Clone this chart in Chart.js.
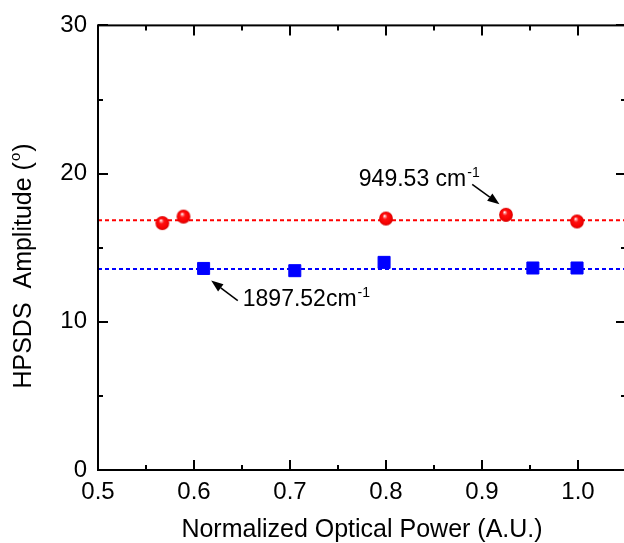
<!DOCTYPE html>
<html><head><meta charset="utf-8">
<script src="https://cdn.jsdelivr.net/npm/chart.js@4"></script>
<style>html,body{margin:0;padding:0;background:#fff;overflow:hidden;width:624px;height:543px}
#wrap{width:640px;height:543px;position:relative}</style></head>
<body><div id="wrap"><canvas id="c" width="640" height="543"></canvas></div>
<script>
// ---- data ----
const powerRed = [0.567, 0.589, 0.800, 0.925, 0.999];
const ampRed   = [16.66, 17.10, 16.97, 17.22, 16.77];
const powerBlue = [0.610, 0.705, 0.798, 0.953, 0.999];
const ampBlue   = [13.60, 13.45, 14.01, 13.63, 13.63];
const fitRed = 16.86;
const fitBlue = 13.56;
const xRange = [0.5, 1.05];
const yRange = [0, 30];
const xTickLabels = ['0.5','0.6','0.7','0.8','0.9','1.0'];
const yTickLabels = ['0','10','20','30'];
const xTitle = 'Normalized Optical Power (A.U.)';
const yTitle = 'HPSDS  Amplitude (';
const labelTexts = ['949.53 cm', '1897.52cm'];
const labelSups = ['-1', '-1'];

// annotation placement (data coordinates)
const annotations = [
  {tx: 0.7717, ty: 19.17, tail: [0.8898, 19.28], tip: [0.9182, 17.94]},
  {tx: 0.6508, ty: 11.05, tail: [0.6456, 11.43], tip: [0.6179, 12.78]}
];

// ---- shaded sphere marker ----
function makeSphere(){
  const s = 16, c = document.createElement('canvas');
  c.width = s; c.height = s;
  const g = c.getContext('2d');
  const cx = s/2, cy = s/2, r = 6.9;
  const grad = g.createRadialGradient(cx-1.5, cy-2.8, 0.3, cx, cy, r);
  grad.addColorStop(0, '#ffffff');
  grad.addColorStop(0.12, '#ff9a9a');
  grad.addColorStop(0.35, '#ff1010');
  grad.addColorStop(0.8, '#f60000');
  grad.addColorStop(1, '#d00000');
  g.fillStyle = grad;
  g.beginPath(); g.arc(cx, cy, r, 0, Math.PI*2); g.fill();
  return c;
}
const sphere = makeSphere();

const FONT = '"Liberation Sans", Arial, sans-serif';

const framePlugin = {
  id: 'frame',
  afterDatasetsDraw(chart){
    const {ctx, chartArea: a, scales: {x, y}} = chart;
    ctx.save();
    ctx.fillStyle = '#000'; ctx.strokeStyle = '#000';
    annotations.forEach((an, i) => {
      const tx = x.getPixelForValue(an.tx), ty = y.getPixelForValue(an.ty);
      ctx.font = '23px ' + FONT; ctx.textAlign = 'left'; ctx.textBaseline = 'alphabetic';
      ctx.fillText(labelTexts[i], tx, ty);
      const w = ctx.measureText(labelTexts[i]).width;
      ctx.font = '14px ' + FONT;
      ctx.fillText(labelSups[i], tx + w + 1, ty - 9);
      const x0 = x.getPixelForValue(an.tail[0]), y0 = y.getPixelForValue(an.tail[1]);
      const x1 = x.getPixelForValue(an.tip[0]), y1 = y.getPixelForValue(an.tip[1]);
      const ang = Math.atan2(y1 - y0, x1 - x0);
      const hl = 12, hw = 4.5;
      const bx = x1 - hl*Math.cos(ang), by = y1 - hl*Math.sin(ang);
      ctx.lineWidth = 1.5;
      ctx.beginPath(); ctx.moveTo(x0, y0); ctx.lineTo(bx, by); ctx.stroke();
      ctx.beginPath();
      ctx.moveTo(x1, y1);
      ctx.lineTo(bx + hw*Math.sin(ang), by - hw*Math.cos(ang));
      ctx.lineTo(bx - hw*Math.sin(ang), by + hw*Math.cos(ang));
      ctx.closePath(); ctx.fill();
    });
    ctx.restore();
  },
  afterDraw(chart){
    const {ctx, chartArea: a, scales: {x, y}} = chart;
    ctx.save();
    ctx.strokeStyle = '#000';
    ctx.lineWidth = 2;
    ctx.strokeRect(a.left, a.top, a.right - a.left, a.bottom - a.top);
    for (let i = 0; i <= 11; i++) {
      const v = xRange[0] + i*0.05;
      const px = Math.round(x.getPixelForValue(v));
      const len = i % 2 === 0 ? 10 : 5;
      ctx.beginPath();
      ctx.moveTo(px, a.bottom); ctx.lineTo(px, a.bottom - len);
      ctx.moveTo(px, a.top); ctx.lineTo(px, a.top + len);
      ctx.stroke();
    }
    for (let i = 0; i <= 6; i++) {
      const v = yRange[0] + i*5;
      const py = Math.round(y.getPixelForValue(v));
      const len = i % 2 === 0 ? 10 : 5;
      ctx.beginPath();
      ctx.moveTo(a.left, py); ctx.lineTo(a.left + len, py);
      ctx.moveTo(a.right, py); ctx.lineTo(a.right - len, py);
      ctx.stroke();
    }
    ctx.fillStyle = '#000';
    ctx.font = '25px ' + FONT;
    ctx.textAlign = 'center'; ctx.textBaseline = 'alphabetic';
    ctx.fillText(xTitle, 362, 537);
    ctx.translate(31, 266);
    ctx.rotate(-Math.PI/2);
    ctx.font = '25px ' + FONT;
    const w1 = ctx.measureText(yTitle).width;
    ctx.font = '15px ' + FONT;
    const w2 = ctx.measureText('o').width;
    ctx.font = '25px ' + FONT;
    const w3 = ctx.measureText(')').width;
    const tot = w1 + w2 + w3 + 2;
    let sx = -tot/2;
    ctx.textAlign = 'left';
    ctx.fillText(yTitle, sx, 0); sx += w1 + 1;
    ctx.font = '15px ' + FONT;
    ctx.fillText('o', sx, -11); sx += w2 + 1;
    ctx.font = '25px ' + FONT;
    ctx.fillText(')', sx, 0);
    ctx.restore();
  }
};

new Chart(document.getElementById('c'), {
  type: 'scatter',
  data: {
    datasets: [
      {
        label: '949.53 cm-1',
        data: powerRed.map((p, i) => ({x: p, y: ampRed[i]})),
        pointStyle: sphere, pointRadius: 7, order: 0
      },
      {
        label: '1897.52cm-1',
        data: powerBlue.map((p, i) => ({x: p, y: ampBlue[i]})),
        pointStyle: 'rect', pointRadius: 8.5,
        backgroundColor: '#0000ff', borderColor: '#0000ff', borderWidth: 1, order: 1
      },
      {
        label: 'fit red',
        data: [{x: xRange[0], y: fitRed}, {x: xRange[1], y: fitRed}],
        showLine: true, pointRadius: 0, borderColor: '#ff0000', borderWidth: 2,
        borderDash: [4, 3], order: 2
      },
      {
        label: 'fit blue',
        data: [{x: xRange[0], y: fitBlue}, {x: xRange[1], y: fitBlue}],
        showLine: true, pointRadius: 0, borderColor: '#0000ff', borderWidth: 2,
        borderDash: [4, 3], order: 3
      }
    ]
  },
  options: {
    responsive: false,
    animation: false,
    layout: {padding: {top: 24, right: 14, left: 0, bottom: 0}},
    plugins: {legend: {display: false}, tooltip: {enabled: false}},
    scales: {
      x: {
        type: 'linear', min: xRange[0], max: xRange[1],
        grid: {display: false, drawTicks: false},
        border: {display: false},
        ticks: {
          stepSize: 0.1, includeBounds: false, padding: 8,
          color: '#000', font: {family: FONT, size: 24},
          maxRotation: 0, autoSkip: false,
          callback: (v) => {
            const s = Number(v).toFixed(1);
            return (xTickLabels.includes(s) && Math.abs(v - parseFloat(s)) < 1e-6) ? s : '';
          }
        },
        afterFit: (s) => { s.height = 73; }
      },
      y: {
        type: 'linear', min: yRange[0], max: yRange[1],
        grid: {display: false, drawTicks: false},
        border: {display: false},
        ticks: {
          stepSize: 10, padding: 11,
          color: '#000', font: {family: FONT, size: 24},
          callback: (v) => yTickLabels.includes(String(v)) ? String(v) : ''
        },
        afterFit: (s) => { s.width = 98; }
      }
    }
  },
  plugins: [framePlugin]
});
</script>
</body></html>
